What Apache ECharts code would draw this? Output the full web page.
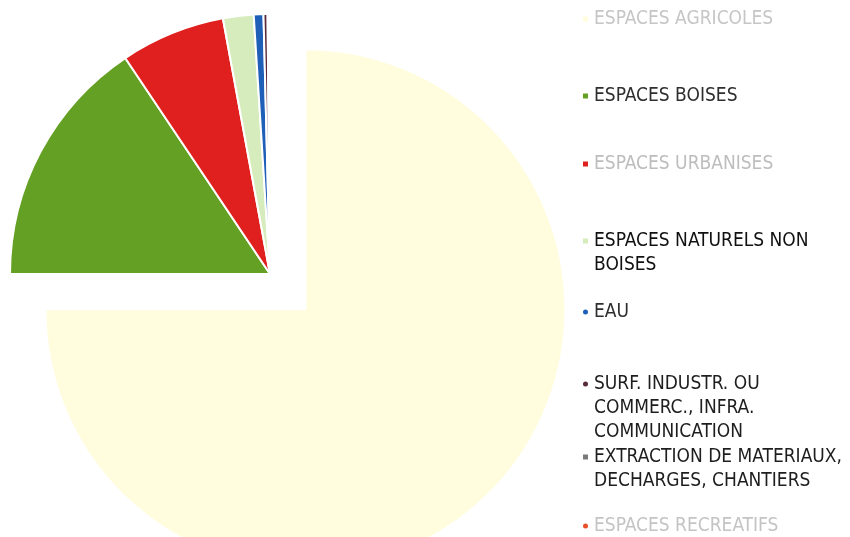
<!DOCTYPE html>
<html>
<head>
<meta charset="utf-8">
<script src="https://cdn.jsdelivr.net/npm/echarts@6/dist/echarts.min.js"></script>
<style>
html,body{margin:0;padding:0;background:#fff;}
#chart{width:850px;height:537px;}
</style>
</head>
<body>
<div id="chart"></div>
<script>
// ---- data ----
const categories = [
  'ESPACES AGRICOLES',
  'ESPACES BOISES',
  'ESPACES URBANISES',
  'ESPACES NATURELS NON BOISES',
  'EAU',
  'SURF. INDUSTR. OU COMMERC., INFRA. COMMUNICATION',
  'EXTRACTION DE MATERIAUX, DECHARGES, CHANTIERS',
  'ESPACES RECREATIFS'
];
const legendLabels = [
  'ESPACES AGRICOLES',
  'ESPACES BOISES',
  'ESPACES URBANISES',
  'ESPACES NATURELS NON\nBOISES',
  'EAU',
  'SURF. INDUSTR. OU\nCOMMERC., INFRA.\nCOMMUNICATION',
  'EXTRACTION DE MATERIAUX,\nDECHARGES, CHANTIERS',
  'ESPACES RECREATIFS'
];
const values = [75.0, 15.6, 6.5, 1.9, 0.6, 0.25, 0.05, 0.1];

// ---- styles / layout ----
const colors = ['#FFFDDD', '#64A024', '#E0201E', '#D6ECBD', '#1F5FB8', '#5A2A3A', '#7A7A7A', '#E8502A'];
const textColors = ['#c6c6c6', '#2e2e2e', '#bdbdbd', '#111111', '#2e2e2e', '#1e1e1e', '#1e1e1e', '#c4c4c4'];
const iconShapes = ['rect', 'rect', 'rect', 'rect', 'circle', 'circle', 'rect', 'circle'];
const firstLineY = [18, 95, 163, 240, 311, 383, 456, 525];
const LH = 24;
const S = 7;

function iconPath(shape, h) {
  const cy = LH / 2;
  const t = cy - S / 2, b = cy + S / 2;
  let mark;
  if (shape === 'circle') {
    mark = `M0 ${cy} A${S/2} ${S/2} 0 1 1 ${S} ${cy} A${S/2} ${S/2} 0 1 1 0 ${cy} Z`;
  } else {
    mark = `M0 ${t} L${S} ${t} L${S} ${b} L0 ${b} Z`;
  }
  return `path://M0 0 ${mark} M${S} ${h}`;
}

const chart = echarts.init(document.getElementById('chart'), null, {renderer: 'canvas'});

const legends = categories.map((name, i) => {
  const n = legendLabels[i].split('\n').length;
  const h = n * LH;
  return {
    orient: 'vertical',
    left: 581,
    top: firstLineY[i] - LH / 2,
    padding: 0,
    itemWidth: S,
    itemHeight: h,
    icon: iconPath(iconShapes[i], h),
    selectedMode: false,
    data: [name],
    formatter: () => legendLabels[i],
    textStyle: {
      color: textColors[i],
      fontFamily: "'Liberation Sans Narrow', 'DejaVu Sans Condensed', sans-serif",
      fontSize: 19,
      lineHeight: LH
    }
  };
});

const option = {
  animation: false,
  backgroundColor: '#ffffff',
  legend: legends,
  series: [{
    type: 'pie',
    center: [270, 274],
    radius: 260,
    startAngle: 90,
    clockwise: true,
    selectedMode: 'single',
    selectedOffset: 50,
    label: {show: false},
    labelLine: {show: false},
    emphasis: {disabled: true},
    itemStyle: {borderColor: '#ffffff', borderWidth: 2},
    data: categories.map((name, i) => ({
      name: name,
      value: values[i],
      selected: i === 0,
      itemStyle: {color: colors[i]},
      select: {itemStyle: {color: colors[i], borderColor: '#ffffff', borderWidth: 2}}
    }))
  }]
};
chart.setOption(option);
</script>
</body>
</html>
